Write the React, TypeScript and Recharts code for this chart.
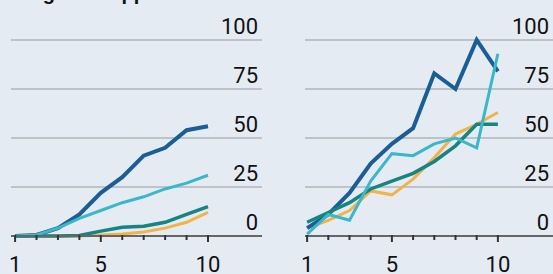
import { LineChart, Line, XAxis, YAxis, CartesianGrid } from 'recharts'

const steps = [1, 2, 3, 4, 5, 6, 7, 8, 9, 10]
const yTicks = [0, 25, 50, 75, 100]
const xLabels = ['1', '5', '10']

const leftDarkBlue = [0, 0.5, 4, 11, 22, 30, 41, 45, 54, 56]
const leftCyan = [0, 0.5, 4, 9, 13, 17, 20, 24, 27, 31]
const leftTeal = [0, 0, 0, 0.3, 2.5, 4.5, 5, 7, 11, 15]
const leftOrange = [0, 0, 0, 0, 0.5, 1, 2, 4, 7, 12]

const rightDarkBlue = [4, 11, 22, 37, 47, 55, 83, 75, 100, 84]
const rightCyan = [1, 11, 8, 28, 42, 41, 47, 50, 45, 93]
const rightTeal = [7, 12, 17, 24, 28, 32, 38, 46, 57, 57]
const rightOrange = [4, 8, 13, 23, 21, 29, 40, 52, 57, 63]

const BG = '#e4ebf2'
const FONT = '"Liberation Sans Narrow", Roboto, sans-serif'

function build(a: number[], b: number[], c: number[], d: number[]) {
  return steps.map((s, i) => ({ step: s, darkBlue: a[i], cyan: b[i], teal: c[i], orange: d[i] }))
}

const XTick = ({ x, y, payload }: any) => {
  const label = String(payload.value)
  const major = xLabels.includes(label)
  return (
    <g>
      <line x1={x} x2={x} y1={y - 1} y2={y + (major ? 6 : 4)} stroke="#333" strokeWidth={2} />
      {major && (
        <text x={x} y={y + 36} textAnchor="middle" fill="#111" fontSize={22} fontFamily={FONT}>
          {label}
        </text>
      )}
    </g>
  )
}

const YTick = ({ x, y, payload }: any) => (
  <text x={x - 4} y={y - 6} textAnchor="end" fill="#111" fontSize={22} fontFamily={FONT}>
    {payload.value}
  </text>
)

function Panel({ data, width, left, domain }: any) {
  return (
    <LineChart
      width={width}
      height={274}
      data={data}
      margin={{ top: 40, right: 0, bottom: 0, left }}
    >
      <CartesianGrid vertical={false} stroke="#bcc3c9" strokeWidth={2} />
      <XAxis
        dataKey="step"
        type="number"
        domain={domain}
        allowDataOverflow
        ticks={steps}
        interval={0}
        height={38}
        tickSize={0}
        tickMargin={0}
        tickLine={false}
        axisLine={{ stroke: '#666', strokeWidth: 2 }}
        tick={<XTick />}
      />
      <YAxis
        orientation="right"
        mirror
        domain={[0, 100]}
        ticks={yTicks}
        interval={0}
        width={40}
        tickSize={0}
        tickMargin={0}
        axisLine={false}
        tickLine={false}
        tick={<YTick />}
      />
      <Line dataKey="orange" stroke="#f2b34a" strokeWidth={3} dot={false} isAnimationActive={false} />
      <Line dataKey="darkBlue" stroke="#1b5e96" strokeWidth={4} dot={false} isAnimationActive={false} />
      <Line dataKey="teal" stroke="#158483" strokeWidth={3.5} dot={false} isAnimationActive={false} />
      <Line dataKey="cyan" stroke="#3ab7c9" strokeWidth={3} dot={false} isAnimationActive={false} />
    </LineChart>
  )
}

export default function App() {
  return (
    <div
      style={{
        position: 'absolute',
        left: 0,
        top: 0,
        width: 553,
        height: 274,
        background: BG,
        overflow: 'hidden',
      }}
    >
      <svg width={553} height={10} style={{ position: 'absolute', left: 0, top: 0 }}>
        <text x={6} y={0} fontSize={20} fontWeight="bold" fill="#111" fontFamily="Liberation Sans, sans-serif">
          Long-term approach
        </text>
      </svg>
      <div style={{ position: 'absolute', left: 0, top: 0 }}>
        <Panel
          data={build(leftDarkBlue, leftCyan, leftTeal, leftOrange)}
          width={262}
          left={11}
          domain={[0.81, 12.52]}
        />
      </div>
      <div style={{ position: 'absolute', left: 280, top: 0 }}>
        <Panel
          data={build(rightDarkBlue, rightCyan, rightTeal, rightOrange)}
          width={273}
          left={25}
          domain={[0.9, 12.6]}
        />
      </div>
    </div>
  )
}
